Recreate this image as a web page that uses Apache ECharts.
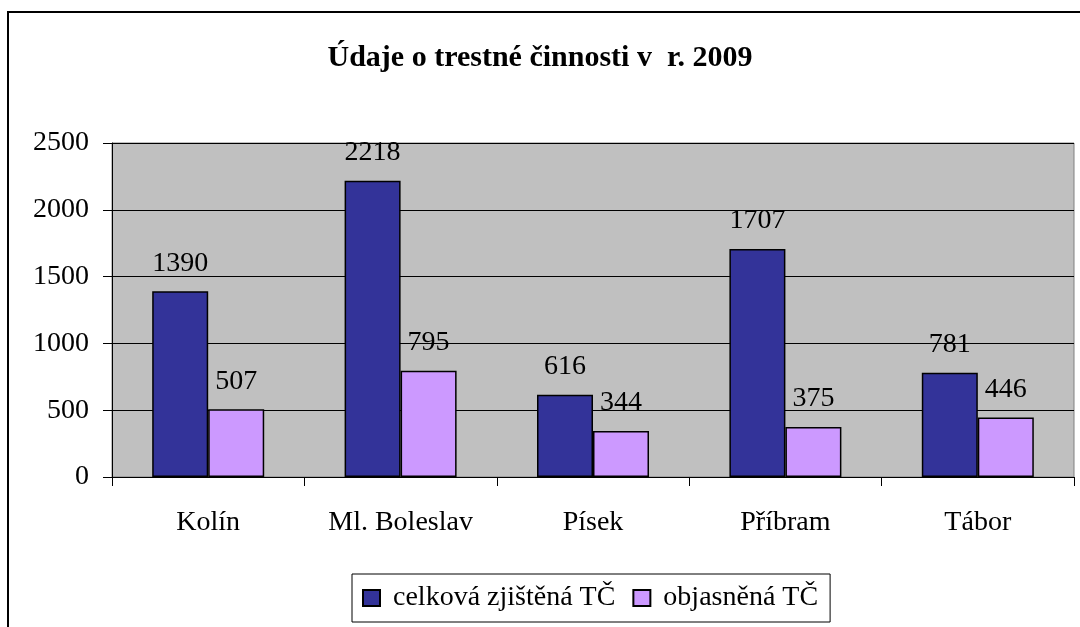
<!DOCTYPE html>
<html>
<head>
<meta charset="utf-8">
<script src="https://cdn.jsdelivr.net/npm/echarts@6/dist/echarts.min.js"></script>
<style>
  html, body { margin: 0; padding: 0; background: #fff; }
  #chart { width: 1080px; height: 627px; }
</style>
</head>
<body>
<div id="chart"></div>
<script>
// data
const districts = ['Kolín', 'Ml. Boleslav', 'Písek', 'Příbram', 'Tábor']
const totalCrimes = [1390, 2218, 616, 1707, 781]
const solvedCrimes = [507, 795, 344, 375, 446]
const seriesNames = ['celková zjištěná TČ', 'objasněná TČ']

const font = '"Liberation Serif", "Times New Roman", serif'

const chart = echarts.init(document.getElementById('chart'))

const labelStyle = {
    show: true,
    position: 'top',
    distance: 14,
    color: '#000',
    fontFamily: font,
    fontSize: 28
}

const option = {
    animation: false,
    title: {
        text: 'Údaje o trestné činnosti v  r. 2009',
        left: 'center',
        top: 38,
        textStyle: {
            fontFamily: font,
            fontWeight: 'bold',
            fontSize: 30,
            color: '#000'
        }
    },
    legend: {
        data: seriesNames,
        left: 352,
        top: 574,
        padding: [10, 12, 10, 10],
        borderColor: '#000',
        borderWidth: 1,
        itemWidth: 17,
        itemHeight: 16,
        itemGap: 17,
        icon: 'rect',
        textStyle: {
            fontFamily: font,
            fontSize: 28,
            color: '#000',
            padding: [0, 0, 0, 8]
        }
    },
    grid: {
        left: 112,
        right: 6,
        top: 143,
        bottom: 150,
        show: true,
        backgroundColor: '#c0c0c0',
        borderColor: '#808080',
        borderWidth: 1
    },
    xAxis: {
        type: 'category',
        data: districts,
        axisLine: { lineStyle: { color: '#000', width: 1 } },
        axisTick: { show: true, length: 9, lineStyle: { color: '#000', width: 1 } },
        axisLabel: {
            margin: 32,
            color: '#000',
            fontFamily: font,
            fontSize: 28
        }
    },
    yAxis: {
        type: 'value',
        min: 0,
        max: 2500,
        interval: 500,
        axisLine: { show: true, lineStyle: { color: '#000', width: 1 } },
        axisTick: { show: true, length: 9, lineStyle: { color: '#000' } },
        splitLine: { lineStyle: { color: '#000', width: 1 } },
        axisLabel: {
            margin: 23,
            color: '#000',
            fontFamily: font,
            fontSize: 28,
            formatter: v => String(v)
        }
    },
    series: [
        {
            name: seriesNames[0],
            type: 'bar',
            data: totalCrimes,
            barWidth: 56,
            barGap: '0%',
            itemStyle: { color: '#333399', borderColor: '#000', borderWidth: 1.5 },
            label: labelStyle
        },
        {
            name: seriesNames[1],
            type: 'bar',
            data: solvedCrimes,
            barWidth: 56,
            barGap: '0%',
            itemStyle: { color: '#cc99ff', borderColor: '#000', borderWidth: 1.5 },
            label: labelStyle
        }
    ],
    graphic: [
        {
            // outer chart frame, runs past the right and bottom edges like the reference
            type: 'rect',
            silent: true,
            z: -10,
            shape: { x: 8, y: 12, width: 1200, height: 800 },
            style: { fill: 'none', stroke: '#000', lineWidth: 2 }
        }
    ]
}

chart.setOption(option)
</script>
</body>
</html>
